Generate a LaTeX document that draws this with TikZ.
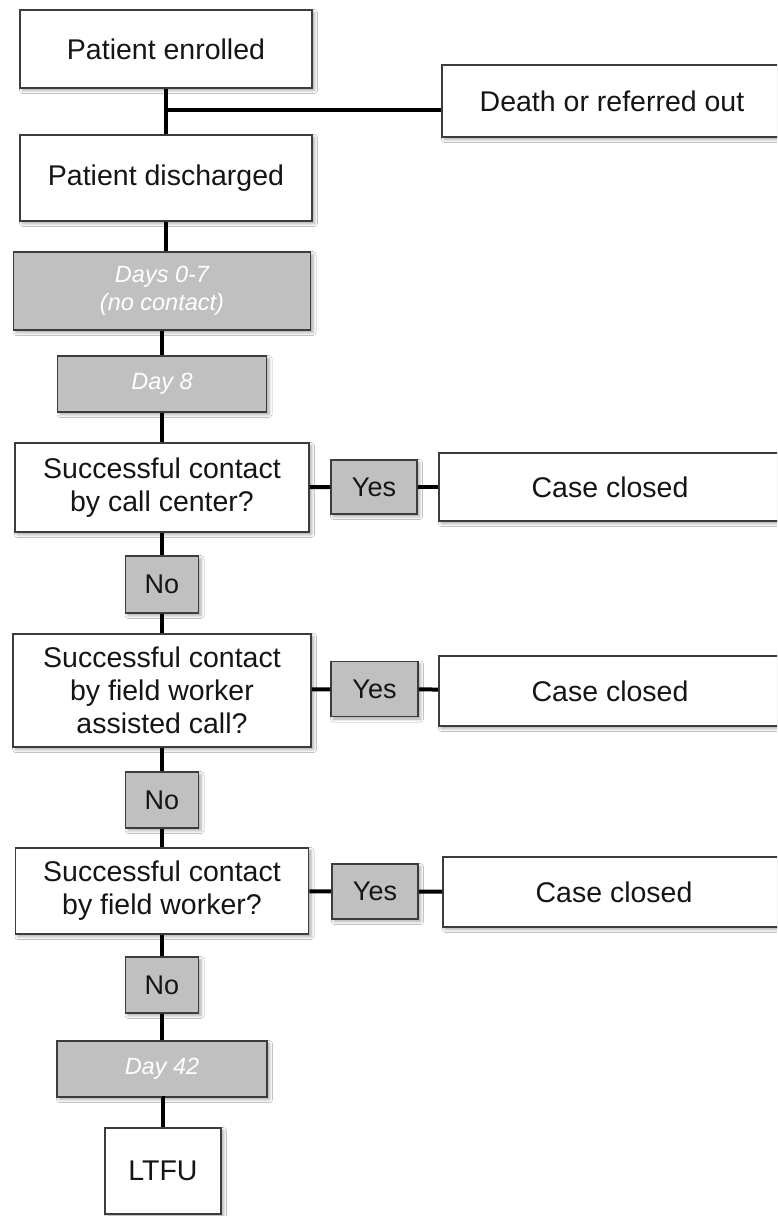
\documentclass[tikz,border=0pt]{standalone}
\usepackage{fontspec}
\setmainfont{Liberation Sans}
\usetikzlibrary{shadows.blur}
\definecolor{boxline}{HTML}{3C3C3C}
\definecolor{boxgray}{HTML}{C0C0C0}
\definecolor{txt}{HTML}{151515}
\tikzset{
  box/.style={draw=boxline, line width=1.8pt, fill=white, inner sep=0pt, align=center,
    text=txt, font=\fontsize{28.5}{33}\selectfont,
    blur shadow={shadow xshift=2.5pt, shadow yshift=-2.5pt, shadow blur radius=3pt, shadow opacity=35}},
  graybox/.style={box, fill=boxgray, text=white, font=\fontsize{23.5}{28}\selectfont\itshape},
  answer/.style={box, fill=boxgray, font=\fontsize{27}{32}\selectfont},
  conn/.style={line width=4pt, black},
}
\begin{document}
\begin{tikzpicture}[x=1pt, y=-1pt]
\useasboundingbox (0,0) rectangle (777,1216);
\clip (0,0) rectangle (777,1216);
\fill[white] (0,0) rectangle (777,1216);
% main column
\node[box, minimum width=292pt, minimum height=78pt] (enrolled) at (166,49) {Patient enrolled};
\node[box, minimum width=340pt, minimum height=72pt] (death) at (612,101) {Death or referred out};
\node[box, minimum width=292pt, minimum height=86pt] (discharged) at (166,178) {Patient discharged};
\node[graybox, minimum width=297pt, minimum height=78pt] (days07) at (162,291) {Days 0-7\\(no contact)};
\node[graybox, minimum width=209pt, minimum height=56pt] (day8) at (162,384) {Day 8};
\node[box, minimum width=294pt, minimum height=89pt] (q1) at (162,487.5) {Successful contact\\by call center?};
\node[answer, minimum width=86pt, minimum height=54pt] (yes1) at (374,487) {Yes};
\node[box, minimum width=342pt, minimum height=68pt] (cc1) at (610,487) {Case closed};
\node[answer, minimum width=73pt, minimum height=57pt] (no1) at (162,584.5) {No};
\node[box, minimum width=298pt, minimum height=113pt] (q2) at (162,690.5) {Successful contact\\by field worker\\assisted call?};
\node[answer, minimum width=87pt, minimum height=55pt] (yes2) at (374.5,689) {Yes};
\node[box, minimum width=342pt, minimum height=70pt] (cc2) at (610,691) {Case closed};
\node[answer, minimum width=73pt, minimum height=56pt] (no2) at (162,800) {No};
\node[box, minimum width=293pt, minimum height=86pt] (q3) at (162,891) {Successful contact\\by field worker?};
\node[answer, minimum width=86pt, minimum height=55pt] (yes3) at (375,891.5) {Yes};
\node[box, minimum width=342pt, minimum height=70pt] (cc3) at (614,892) {Case closed};
\node[answer, minimum width=73pt, minimum height=56pt] (no3) at (162,985) {No};
\node[graybox, minimum width=210pt, minimum height=56pt] (day42) at (162,1069) {Day 42};
\node[box, minimum width=116pt, minimum height=86pt] (ltfu) at (163,1171) {LTFU};
% connectors
\coordinate (j) at (166,110);
\draw[conn] (enrolled) -- (discharged);
\draw[conn] (j) -- (j -| death.west);
\draw[conn] (discharged.south) -- (discharged.south |- days07.north);
\draw[conn] (days07) -- (day8);
\draw[conn] (day8) -- (q1);
\draw[conn] (q1) -- (yes1);
\draw[conn] (yes1) -- (cc1);
\draw[conn] (q1) -- (no1);
\draw[conn] (no1) -- (q2);
\draw[conn] (q2) -- (yes2);
\draw[conn] (yes2) -- (cc2);
\draw[conn] (q2) -- (no2);
\draw[conn] (no2) -- (q3);
\draw[conn] (q3) -- (yes3);
\draw[conn] (yes3) -- (cc3);
\draw[conn] (q3) -- (no3);
\draw[conn] (no3) -- (day42);
\draw[conn] (day42.south) -- (day42.south -| ltfu.north) -- (ltfu.north);
\end{tikzpicture}
\end{document}
